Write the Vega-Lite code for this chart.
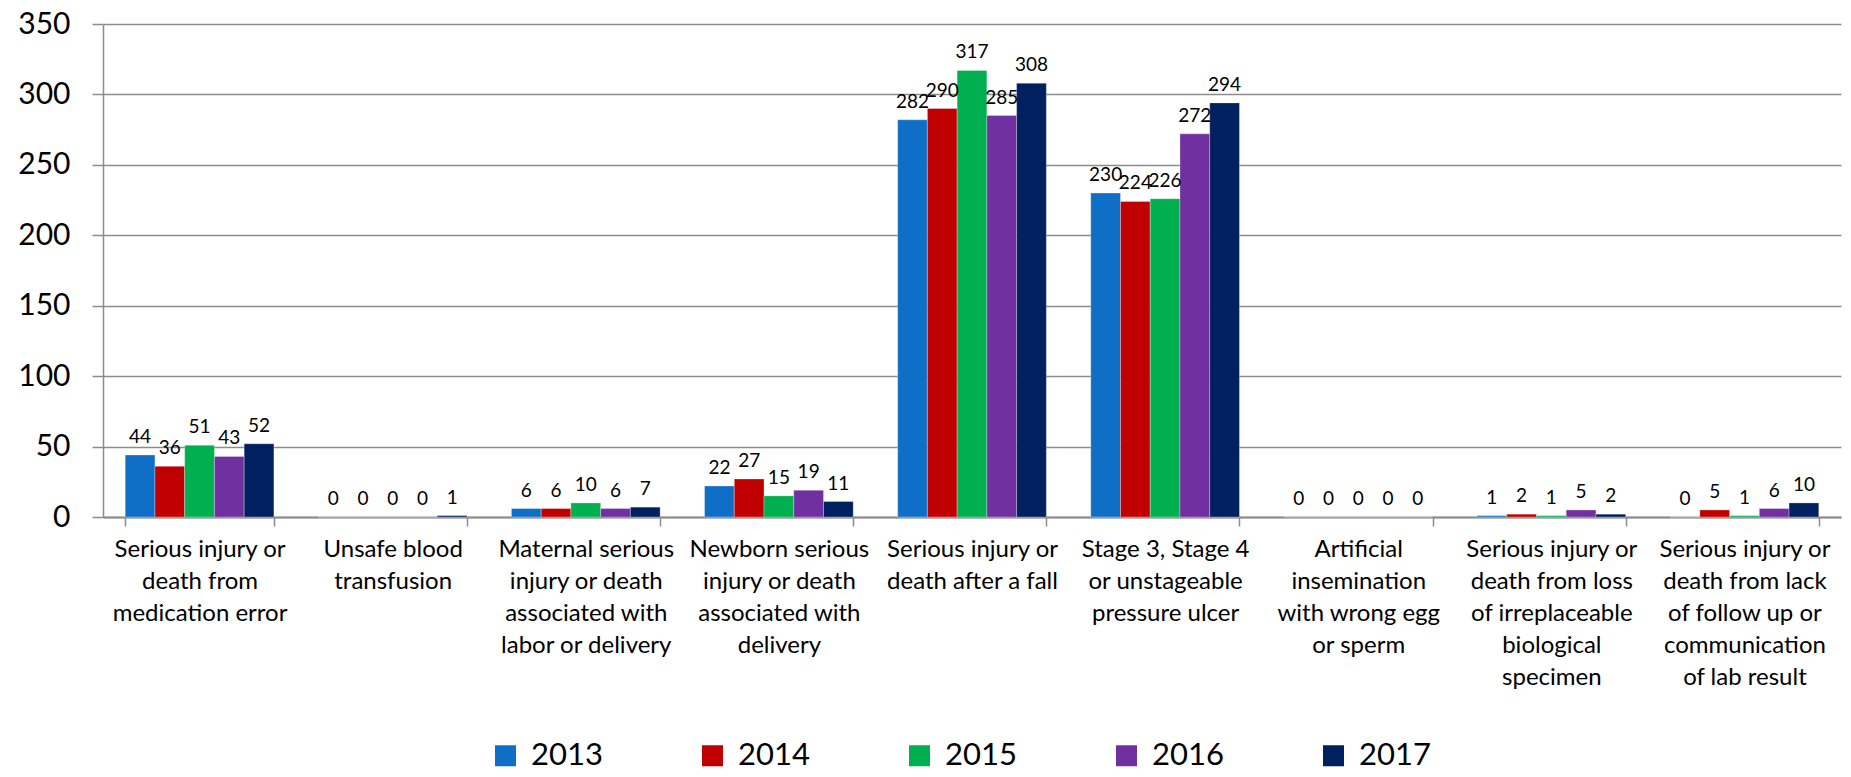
{
  "$schema": "https://vega.github.io/schema/vega-lite/v6.json",
  "width": 1738,
  "height": 493,
  "autosize": {"type": "none"},
  "padding": {"left": 103, "top": 24, "right": 10, "bottom": 260},
  "background": "white",
  "config": {
    "font": "Lato",
    "view": {"stroke": null}
  },
  "data": {
    "values": [
      {"event": "Serious injury or|death from|medication error", "year": "2013", "count": 44},
      {"event": "Serious injury or|death from|medication error", "year": "2014", "count": 36},
      {"event": "Serious injury or|death from|medication error", "year": "2015", "count": 51},
      {"event": "Serious injury or|death from|medication error", "year": "2016", "count": 43},
      {"event": "Serious injury or|death from|medication error", "year": "2017", "count": 52},
      {"event": "Unsafe blood|transfusion", "year": "2013", "count": 0},
      {"event": "Unsafe blood|transfusion", "year": "2014", "count": 0},
      {"event": "Unsafe blood|transfusion", "year": "2015", "count": 0},
      {"event": "Unsafe blood|transfusion", "year": "2016", "count": 0},
      {"event": "Unsafe blood|transfusion", "year": "2017", "count": 1},
      {"event": "Maternal serious|injury or death|associated with|labor or delivery", "year": "2013", "count": 6},
      {"event": "Maternal serious|injury or death|associated with|labor or delivery", "year": "2014", "count": 6},
      {"event": "Maternal serious|injury or death|associated with|labor or delivery", "year": "2015", "count": 10},
      {"event": "Maternal serious|injury or death|associated with|labor or delivery", "year": "2016", "count": 6},
      {"event": "Maternal serious|injury or death|associated with|labor or delivery", "year": "2017", "count": 7},
      {"event": "Newborn serious|injury or death|associated with|delivery", "year": "2013", "count": 22},
      {"event": "Newborn serious|injury or death|associated with|delivery", "year": "2014", "count": 27},
      {"event": "Newborn serious|injury or death|associated with|delivery", "year": "2015", "count": 15},
      {"event": "Newborn serious|injury or death|associated with|delivery", "year": "2016", "count": 19},
      {"event": "Newborn serious|injury or death|associated with|delivery", "year": "2017", "count": 11},
      {"event": "Serious injury or|death after a fall", "year": "2013", "count": 282},
      {"event": "Serious injury or|death after a fall", "year": "2014", "count": 290},
      {"event": "Serious injury or|death after a fall", "year": "2015", "count": 317},
      {"event": "Serious injury or|death after a fall", "year": "2016", "count": 285},
      {"event": "Serious injury or|death after a fall", "year": "2017", "count": 308},
      {"event": "Stage 3, Stage 4|or unstageable|pressure ulcer", "year": "2013", "count": 230},
      {"event": "Stage 3, Stage 4|or unstageable|pressure ulcer", "year": "2014", "count": 224},
      {"event": "Stage 3, Stage 4|or unstageable|pressure ulcer", "year": "2015", "count": 226},
      {"event": "Stage 3, Stage 4|or unstageable|pressure ulcer", "year": "2016", "count": 272},
      {"event": "Stage 3, Stage 4|or unstageable|pressure ulcer", "year": "2017", "count": 294},
      {"event": "Artificial|insemination|with wrong egg|or sperm", "year": "2013", "count": 0},
      {"event": "Artificial|insemination|with wrong egg|or sperm", "year": "2014", "count": 0},
      {"event": "Artificial|insemination|with wrong egg|or sperm", "year": "2015", "count": 0},
      {"event": "Artificial|insemination|with wrong egg|or sperm", "year": "2016", "count": 0},
      {"event": "Artificial|insemination|with wrong egg|or sperm", "year": "2017", "count": 0},
      {"event": "Serious injury or|death from loss|of irreplaceable|biological|specimen", "year": "2013", "count": 1},
      {"event": "Serious injury or|death from loss|of irreplaceable|biological|specimen", "year": "2014", "count": 2},
      {"event": "Serious injury or|death from loss|of irreplaceable|biological|specimen", "year": "2015", "count": 1},
      {"event": "Serious injury or|death from loss|of irreplaceable|biological|specimen", "year": "2016", "count": 5},
      {"event": "Serious injury or|death from loss|of irreplaceable|biological|specimen", "year": "2017", "count": 2},
      {"event": "Serious injury or|death from lack|of follow up or|communication|of lab result", "year": "2013", "count": 0},
      {"event": "Serious injury or|death from lack|of follow up or|communication|of lab result", "year": "2014", "count": 5},
      {"event": "Serious injury or|death from lack|of follow up or|communication|of lab result", "year": "2015", "count": 1},
      {"event": "Serious injury or|death from lack|of follow up or|communication|of lab result", "year": "2016", "count": 6},
      {"event": "Serious injury or|death from lack|of follow up or|communication|of lab result", "year": "2017", "count": 10}
    ]
  },
  "encoding": {
    "x": {
      "field": "event",
      "type": "nominal",
      "sort": null,
      "title": null,
      "scale": {"paddingInner": 0.23, "paddingOuter": 0.115},
      "axis": {
        "labelExpr": "split(datum.label, '|')",
        "labelAngle": 0,
        "labelFontSize": 24,
        "labelLineHeight": 32,
        "labelColor": "black",
        "labelPadding": 11,
        "labelLimit": 400,
        "labelBaseline": "top",
        "tickBand": "extent",
        "tickSize": 9,
        "tickColor": "#8c8c8c",
        "tickWidth": 1.5,
        "domainColor": "#8c8c8c",
        "domainWidth": 2,
        "grid": false
      }
    },
    "xOffset": {"field": "year", "type": "nominal", "scale": {"paddingInner": 0, "paddingOuter": 0}},
    "y": {
      "field": "count",
      "type": "quantitative",
      "title": null,
      "scale": {"domain": [0, 350], "nice": false},
      "axis": {
        "values": [0, 50, 100, 150, 200, 250, 300, 350],
        "labelFontSize": 30,
        "labelColor": "black",
        "labelPadding": 22,
        "tickSize": 11,
        "tickColor": "#8c8c8c",
        "tickWidth": 1.5,
        "domainColor": "#8c8c8c",
        "domainWidth": 1.5,
        "grid": true,
        "gridColor": "#8c8c8c",
        "gridWidth": 1.5
      }
    }
  },
  "layer": [
    {
      "mark": {"type": "bar", "stroke": "white", "strokeWidth": 0.5, "strokeOpacity": 0.6},
      "encoding": {
        "color": {
          "field": "year",
          "type": "nominal",
          "scale": {
            "domain": ["2013", "2014", "2015", "2016", "2017"],
            "range": ["#0F6FC6", "#C00000", "#00B050", "#7030A0", "#002060"]
          },
          "legend": {
            "title": null,
            "orient": "none",
            "direction": "horizontal",
            "legendX": 387,
            "legendY": 716,
            "symbolType": "square",
            "symbolSize": 441,
            "symbolStrokeWidth": 0,
            "labelFontSize": 31,
            "labelColor": "black",
            "labelOffset": 10,
            "columnPadding": 94,
            "labelLimit": 200
          }
        }
      }
    },
    {
      "mark": {"type": "text", "baseline": "bottom", "dy": -8, "fontSize": 19, "color": "black"},
      "encoding": {
        "text": {"field": "count", "type": "quantitative"}
      }
    }
  ]
}
